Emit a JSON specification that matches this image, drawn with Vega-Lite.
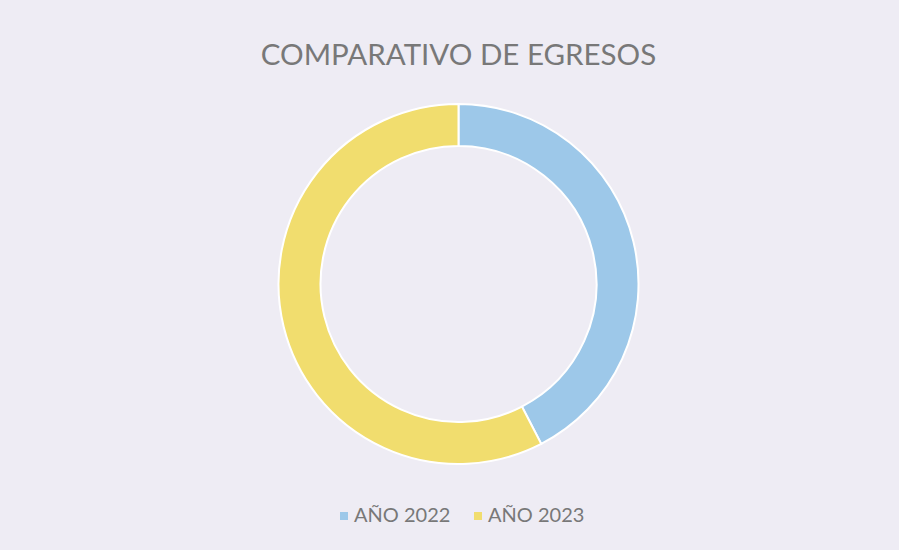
{
  "$schema": "https://vega.github.io/schema/vega-lite/v6.json",
  "width": 881,
  "height": 532,
  "autosize": {"type": "none"},
  "padding": {"left": 18, "top": 18, "right": 0, "bottom": 0},
  "background": "#EEECF4",
  "title": {
    "text": "COMPARATIVO DE EGRESOS",
    "font": "Lato",
    "fontSize": 29.5,
    "fontWeight": "normal",
    "color": "#787878",
    "anchor": "middle",
    "baseline": "alphabetic",
    "dy": 80
  },
  "config": {"view": {"stroke": null}},
  "data": {
    "values": [
      {"serie": "AÑO 2022", "valor": 42.4, "orden": 1},
      {"serie": "AÑO 2023", "valor": 57.6, "orden": 2}
    ]
  },
  "mark": {"type": "arc", "radius": 180, "radius2": 138, "stroke": "#FFFFFF", "strokeWidth": 2},
  "encoding": {
    "theta": {"field": "valor", "type": "quantitative", "stack": true},
    "order": {"field": "orden", "type": "quantitative"},
    "color": {
      "field": "serie",
      "type": "nominal",
      "scale": {"domain": ["AÑO 2022", "AÑO 2023"], "range": ["#9DC8E9", "#F1DD6E"]},
      "legend": {
        "title": null,
        "orient": "none",
        "direction": "horizontal",
        "legendX": 316,
        "legendY": 488,
        "symbolType": "square",
        "symbolSize": 64,
        "symbolStrokeWidth": 0,
        "labelFont": "Lato",
        "labelFontSize": 20,
        "labelColor": "#787878",
        "labelOffset": 0,
        "columnPadding": 17,
        "padding": 0
      }
    }
  }
}
